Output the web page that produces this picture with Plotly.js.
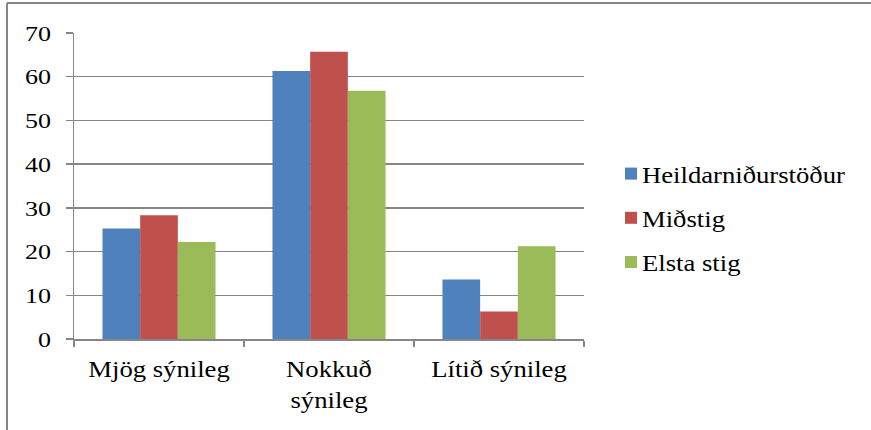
<!DOCTYPE html>
<html>
<head>
<meta charset="utf-8">
<script src="https://cdn.plot.ly/plotly-3.0.1.min.js"></script>
<style>html,body{margin:0;padding:0;background:#fff;overflow:hidden;}#chart{width:871px;height:430px;}</style>
</head>
<body>
<div id="chart"></div>
<script>
const categories = ["Mjög sýnileg", "Nokkuð<br>sýnileg", "Lítið sýnileg"];
const seriesNames = ["Heildarniðurstöður", "Miðstig", "Elsta stig"];
const heildar = [25.3, 61.3, 13.6];
const midstig = [28.3, 65.7, 6.3];
const elsta = [22.2, 56.8, 21.2];
const colors = ["#4F81BD", "#C0504D", "#9BBB59"];

const values = [heildar, midstig, elsta];
const traces = values.map((v, i) => ({
  type: "bar",
  x: categories,
  y: v,
  name: seriesNames[i],
  legendgroup: "g" + i,
  marker: {color: colors[i], line: {width: 0}},
  hoverinfo: "x+y+name"
}));

const L = 74, R = 584, T = 33, B = 339;
const W = R - L, H = B - T;
const px = x => (x - L) / W;
const py = y => (B - y) / H;
const FONT = "Liberation Serif";

const layout = {
  width: 871, height: 430,
  margin: {l: L, r: 871 - R, t: T, b: 430 - B, pad: 0},
  paper_bgcolor: "#fff", plot_bgcolor: "#fff",
  font: {family: FONT, size: 24, color: "#000"},
  barmode: "group",
  bargap: 0.335,
  bargroupgap: 0,
  showlegend: true,
  legend: {
    x: px(611), xanchor: "left", y: py(218), yanchor: "middle",
    traceorder: "grouped", tracegroupgap: 10,
    font: {family: FONT, size: 24, color: "#000"}, bgcolor: "rgba(0,0,0,0)", borderwidth: 0
  },
  xaxis: {
    type: "category",
    showgrid: false,
    showline: true, linecolor: "#868686", linewidth: 1.5,
    ticks: "outside", tickson: "boundaries", ticklen: 6, tickcolor: "#868686", tickwidth: 1.5,
    tickfont: {family: FONT, size: 24, color: "#000"},
    ticklabelstandoff: 8,
    fixedrange: true
  },
  yaxis: {
    range: [0, 70], dtick: 10, tick0: 0,
    showgrid: true, gridcolor: "#868686", gridwidth: 1.5,
    showline: true, linecolor: "#868686", linewidth: 1.5,
    ticks: "outside", ticklen: 7, tickcolor: "#868686", tickwidth: 1.5,
    tickfont: {family: FONT, size: 22, color: "#000"},
    ticklabelstandoff: 10,
    zeroline: false,
    fixedrange: true
  },
  shapes: [
    {type: "line", xref: "paper", yref: "paper", x0: px(7), x1: px(875), y0: py(3), y1: py(3), line: {color: "#868686", width: 2}},
    {type: "line", xref: "paper", yref: "paper", x0: px(7), x1: px(7), y0: py(3), y1: py(440), line: {color: "#868686", width: 2}}
  ]
};

function stretch(sel, s, dx) {
  document.querySelectorAll("#chart " + sel).forEach(t => {
    const x = parseFloat(t.getAttribute("x")) || 0;
    const tr = t.getAttribute("transform") || "";
    t.setAttribute("transform", tr + " translate(" + (x + dx) + ",0) scale(" + s + ",1) translate(" + (-x) + ",0)");
  });
}
const clamp = (v, a, b) => Math.max(a, Math.min(b, v));

Plotly.newPlot("chart", traces, layout, {displayModeBar: false, staticPlot: true}).then(() => {
  let sL = 1.1, sY = 1.25;
  try {
    const lt = document.querySelector("#chart .legendtext");
    const w = lt.getBBox().width;
    if (w > 0) sL = clamp(203 / w, 0.9, 1.3);
    const yts = Array.from(document.querySelectorAll("#chart .ytick text"));
    const t70 = yts.find(t => t.textContent.trim() === "70");
    if (t70) { const wy = t70.getBBox().width; if (wy > 0) sY = clamp(26 / wy, 0.9, 1.5); }
  } catch (e) {}
  document.querySelectorAll("#chart .legend [clip-path]").forEach(el => el.removeAttribute("clip-path"));
  stretch(".xtick text", sL, 0);
  stretch(".ytick text", sY, 0);
  stretch(".legendtext", sL, -9);
});
</script>
</body>
</html>
